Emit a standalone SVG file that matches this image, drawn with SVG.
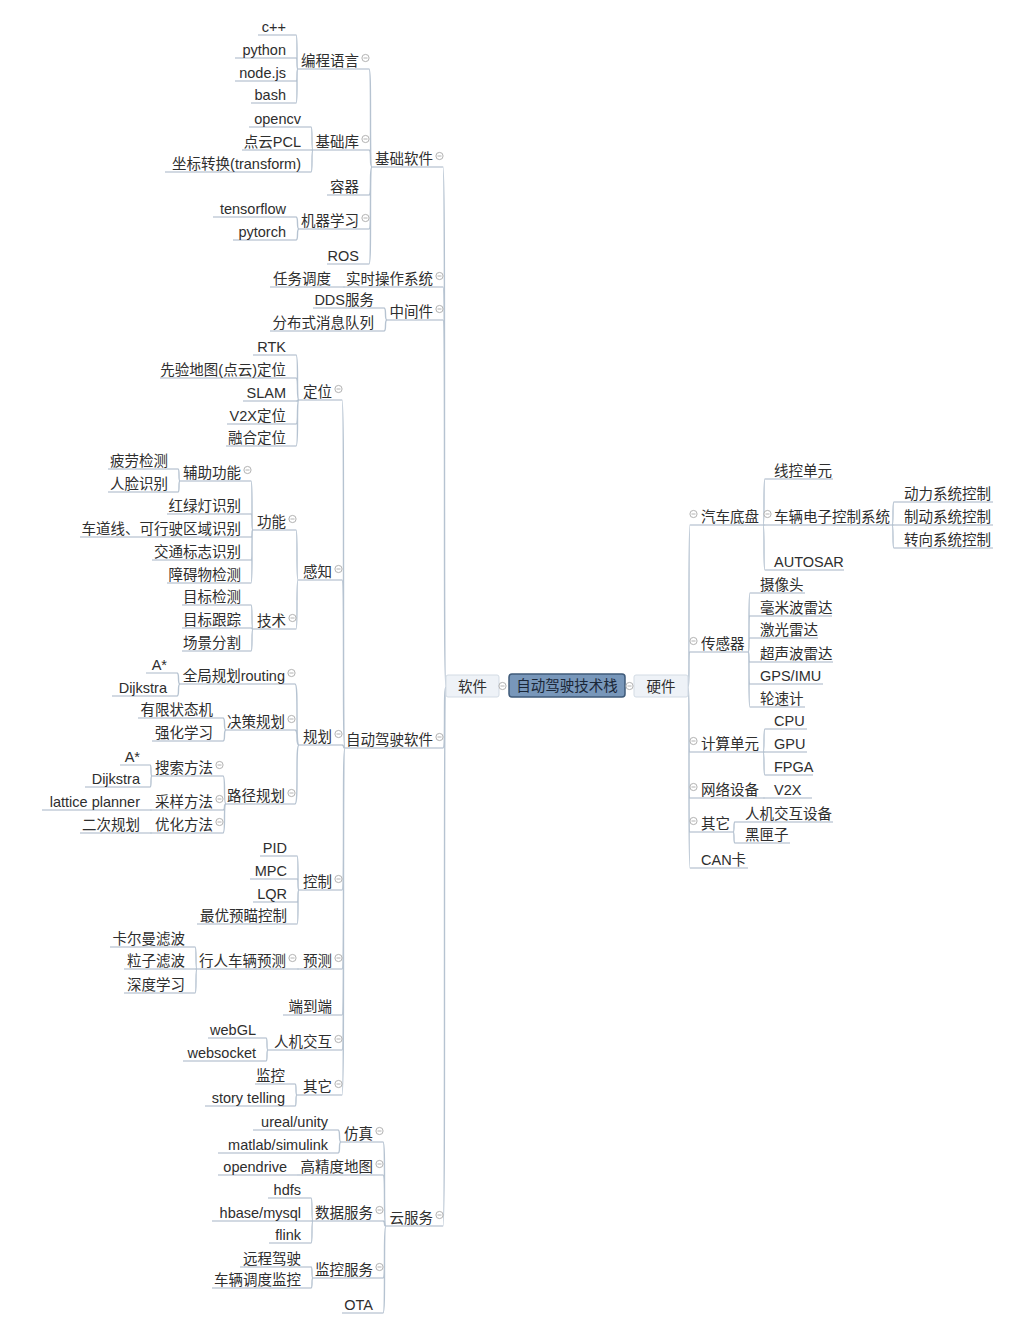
<svg xmlns="http://www.w3.org/2000/svg" xmlns:xlink="http://www.w3.org/1999/xlink" width="1032" height="1326" viewBox="0 0 1032 1326">
<style>
.t{font-family:"Liberation Sans","Noto Sans CJK SC",sans-serif;font-size:14.5px;fill:#2e2e2e}
.e{text-anchor:end}
.m{text-anchor:middle}
.u{fill:none;stroke:#c3cdd8;stroke-width:1.4}
.c{fill:none;stroke:#b6c3d1;stroke-width:1.4}
</style>
<defs>
<g id="ic"><circle r="3.6" fill="#fff" stroke="#a9a9a9" stroke-width="0.9"/><path d="M-2 0H2" stroke="#a9a9a9" stroke-width="0.9"/></g>
</defs>
<rect width="1032" height="1326" fill="#ffffff"/>
<g id="connectors">
<path class="c" d="M446 687C443 687 446 167 443 167M446 687C443 687 446 287 443 287M446 687C443 687 446 320 443 320M446 687C443 687 446 748 443 748M446 687C443 687 446 1226 443 1226"/>
<path class="c" d="M372 167C369 167 372 69 369 69M372 167C369 167 372 150 369 150M372 167C369 167 372 195 369 195M372 167C369 167 372 229 369 229M372 167C369 167 372 264 369 264"/>
<path class="c" d="M298 69C296 69 298 35 296 35M298 69C296 69 298 58 296 58M298 69C296 69 298 81 296 81M298 69C296 69 298 103 296 103"/>
<path class="c" d="M313 150C311 150 313 127 311 127M313 150H311M313 150C311 150 313 172 311 172"/>
<path class="c" d="M299 229C296 229 299 217 296 217M299 229C296 229 299 240 296 240"/>
<path class="c" d="M345 287H343"/>
<path class="c" d="M387 320C384 320 387 308 384 308M387 320C384 320 387 331 384 331"/>
<path class="c" d="M345 748C342 748 345 400 342 400M345 748C342 748 345 580 342 580M345 748C342 748 345 745 342 745M345 748C342 748 345 890 342 890M345 748C342 748 345 969 342 969M345 748C342 748 345 1015 342 1015M345 748C342 748 345 1050 342 1050M345 748C342 748 345 1095 342 1095"/>
<path class="c" d="M299 400C296 400 299 355 296 355M299 400C296 400 299 378 296 378M299 400C296 400 299 401 296 401M299 400C296 400 299 424 296 424M299 400C296 400 299 446 296 446"/>
<path class="c" d="M298 580C296 580 298 530 296 530M298 580C296 580 298 629 296 629"/>
<path class="c" d="M253 530C251 530 253 481 251 481M253 530C251 530 253 514 251 514M253 530C251 530 253 537 251 537M253 530C251 530 253 560 251 560M253 530C251 530 253 583 251 583"/>
<path class="c" d="M180 481C178 481 180 469 178 469M180 481C178 481 180 492 178 492"/>
<path class="c" d="M253 629C251 629 253 605 251 605M253 629C251 629 253 628 251 628M253 629C251 629 253 651 251 651"/>
<path class="c" d="M299 745C295 745 299 684 295 684M299 745C295 745 299 730 295 730M299 745C295 745 299 804 295 804"/>
<path class="c" d="M180 684C177 684 180 673 177 673M180 684C177 684 180 696 177 696"/>
<path class="c" d="M226 730C223 730 226 718 223 718M226 730C223 730 226 741 223 741"/>
<path class="c" d="M226 804C223 804 226 776 223 776M226 804C223 804 226 810 223 810M226 804C223 804 226 833 223 833"/>
<path class="c" d="M152 776C150 776 152 765 150 765M152 776C150 776 152 787 150 787M152 810H150M152 833H150"/>
<path class="c" d="M299 890C297 890 299 856 297 856M299 890C297 890 299 879 297 879M299 890C297 890 299 902 297 902M299 890C297 890 299 924 297 924"/>
<path class="c" d="M299 969H297"/>
<path class="c" d="M197 969C195 969 197 947 195 947M197 969H195M197 969C195 969 197 993 195 993"/>
<path class="c" d="M268 1050C266 1050 268 1038 266 1038M268 1050C266 1050 268 1061 266 1061"/>
<path class="c" d="M297 1095C295 1095 297 1084 295 1084M297 1095C295 1095 297 1106 295 1106"/>
<path class="c" d="M386 1226C383 1226 386 1142 383 1142M386 1226C383 1226 386 1175 383 1175M386 1226C383 1226 386 1221 383 1221M386 1226C383 1226 386 1278 383 1278M386 1226C383 1226 386 1313 383 1313"/>
<path class="c" d="M341 1142C338 1142 341 1130 338 1130M341 1142C338 1142 341 1153 338 1153"/>
<path class="c" d="M300 1175H297"/>
<path class="c" d="M313 1221C311 1221 313 1198 311 1198M313 1221H311M313 1221C311 1221 313 1243 311 1243"/>
<path class="c" d="M313 1278C311 1278 313 1267 311 1267M313 1278C311 1278 313 1288 311 1288"/>
<path class="c" d="M688 687C690 687 688 525 690 525M688 687C690 687 688 652 690 652M688 687C690 687 688 752 690 752M688 687C690 687 688 798 690 798M688 687C690 687 688 832 690 832M688 687C690 687 688 868 690 868"/>
<path class="c" d="M763 525C765 525 763 479 765 479M763 525H765M763 525C765 525 763 570 765 570"/>
<path class="c" d="M892 525C894 525 892 502 894 502M892 525H894M892 525C894 525 892 548 894 548"/>
<path class="c" d="M748 652C750 652 748 593 750 593M748 652C750 652 748 616 750 616M748 652C750 652 748 638 750 638M748 652C750 652 748 662 750 662M748 652C750 652 748 684 750 684M748 652C750 652 748 707 750 707"/>
<path class="c" d="M763 752C765 752 763 729 765 729M763 752H765M763 752C765 752 763 775 765 775"/>
<path class="c" d="M763 798H765"/>
<path class="c" d="M733 832C735 832 733 822 735 822M733 832C735 832 733 843 735 843"/>
</g>

<g id="root"><rect x="509" y="674" width="116" height="23" rx="3" fill="#7897ba" stroke="#3f5b7a" stroke-width="1.5"/><text class="t m" x="567" y="691" style="fill:#1b2738">自动驾驶技术栈</text></g>
<g id="n-software"><rect x="446" y="675" width="53" height="22" rx="2" fill="#eef2f7" stroke="#d3dbe4"/><text class="t m" x="472.5" y="692">软件</text><use href="#ic" x="502.5" y="686"/></g>
<g id="n-hardware"><rect x="634" y="675" width="54" height="22" rx="2" fill="#eef2f7" stroke="#d3dbe4"/><text class="t m" x="661" y="692">硬件</text><use href="#ic" x="629.5" y="686"/></g>

<g id="n-jcrj"><path class="u" d="M372 167H443"/><text class="t e" x="433" y="164">基础软件</text><use href="#ic" x="439.5" y="156"/></g>
<g id="n-sscz"><path class="u" d="M345 287H443"/><text class="t e" x="433" y="284">实时操作系统</text><use href="#ic" x="439.5" y="276"/></g>
<g id="n-rwdd"><path class="u" d="M270 287H343"/><text class="t e" x="331" y="284">任务调度</text></g>
<g id="n-zjj"><path class="u" d="M387 320H443"/><text class="t e" x="433" y="317">中间件</text><use href="#ic" x="439.5" y="309"/></g>
<g id="n-zdjsrj"><path class="u" d="M345 748H443"/><text class="t e" x="433" y="745">自动驾驶软件</text><use href="#ic" x="439.5" y="737"/></g>
<g id="n-yfw"><path class="u" d="M386 1226H443"/><text class="t e" x="433" y="1223">云服务</text><use href="#ic" x="439.5" y="1215"/></g>

<g id="n-bcyy"><path class="u" d="M298 69H369"/><text class="t e" x="359" y="66">编程语言</text><use href="#ic" x="365.5" y="58"/></g>
<g id="n-jck"><path class="u" d="M313 150H369"/><text class="t e" x="359" y="147">基础库</text><use href="#ic" x="365.5" y="139"/></g>
<g id="n-rq"><path class="u" d="M327 195H369"/><text class="t e" x="359" y="192">容器</text></g>
<g id="n-jqxx"><path class="u" d="M299 229H369"/><text class="t e" x="359" y="226">机器学习</text><use href="#ic" x="365.5" y="218"/></g>
<g id="n-ros"><path class="u" d="M327 264H369"/><text class="t e" x="359" y="261">ROS</text></g>

<g id="n-cpp"><path class="u" d="M258 35H296"/><text class="t e" x="286" y="32">c++</text></g>
<g id="n-python"><path class="u" d="M235 58H296"/><text class="t e" x="286" y="55">python</text></g>
<g id="n-nodejs"><path class="u" d="M235 81H296"/><text class="t e" x="286" y="78">node.js</text></g>
<g id="n-bash"><path class="u" d="M251 103H296"/><text class="t e" x="286" y="100">bash</text></g>
<g id="n-opencv"><path class="u" d="M249 127H311"/><text class="t e" x="301" y="124">opencv</text></g>
<g id="n-pcl"><path class="u" d="M242 150H311"/><text class="t e" x="301" y="147">点云PCL</text></g>
<g id="n-tf"><path class="u" d="M165 172H311"/><text class="t e" x="301" y="169">坐标转换(transform)</text></g>
<g id="n-tensorflow"><path class="u" d="M213 217H296"/><text class="t e" x="286" y="214">tensorflow</text></g>
<g id="n-pytorch"><path class="u" d="M233 240H296"/><text class="t e" x="286" y="237">pytorch</text></g>
<g id="n-dds"><path class="u" d="M313 308H384"/><text class="t e" x="374" y="305">DDS服务</text></g>
<g id="n-fbs"><path class="u" d="M270 331H384"/><text class="t e" x="374" y="328">分布式消息队列</text></g>

<g id="n-dw"><path class="u" d="M299 400H342"/><text class="t e" x="332" y="397">定位</text><use href="#ic" x="338.5" y="389"/></g>
<g id="n-gz"><path class="u" d="M298 580H342"/><text class="t e" x="332" y="577">感知</text><use href="#ic" x="338.5" y="569"/></g>
<g id="n-gh"><path class="u" d="M299 745H342"/><text class="t e" x="332" y="742">规划</text><use href="#ic" x="338.5" y="734"/></g>
<g id="n-kz"><path class="u" d="M299 890H342"/><text class="t e" x="332" y="887">控制</text><use href="#ic" x="338.5" y="879"/></g>
<g id="n-yc"><path class="u" d="M299 969H342"/><text class="t e" x="332" y="966">预测</text><use href="#ic" x="338.5" y="958"/></g>
<g id="n-ddd"><path class="u" d="M283 1015H342"/><text class="t e" x="332" y="1012">端到端</text></g>
<g id="n-rjjh"><path class="u" d="M268 1050H342"/><text class="t e" x="332" y="1047">人机交互</text><use href="#ic" x="338.5" y="1039"/></g>
<g id="n-qt"><path class="u" d="M297 1095H342"/><text class="t e" x="332" y="1092">其它</text><use href="#ic" x="338.5" y="1084"/></g>

<g id="n-rtk"><path class="u" d="M253 355H296"/><text class="t e" x="286" y="352">RTK</text></g>
<g id="n-xydt"><path class="u" d="M160 378H296"/><text class="t e" x="286" y="375">先验地图(点云)定位</text></g>
<g id="n-slam"><path class="u" d="M243 401H296"/><text class="t e" x="286" y="398">SLAM</text></g>
<g id="n-v2xdw"><path class="u" d="M227 424H296"/><text class="t e" x="286" y="421">V2X定位</text></g>
<g id="n-rhdw"><path class="u" d="M226 446H296"/><text class="t e" x="286" y="443">融合定位</text></g>

<g id="n-gn"><path class="u" d="M253 530H296"/><text class="t e" x="286" y="527">功能</text><use href="#ic" x="292.5" y="519"/></g>
<g id="n-js"><path class="u" d="M253 629H296"/><text class="t e" x="286" y="626">技术</text><use href="#ic" x="292.5" y="618"/></g>
<g id="n-fzgn"><path class="u" d="M180 481H251"/><text class="t e" x="241" y="478">辅助功能</text><use href="#ic" x="247.5" y="470"/></g>
<g id="n-hld"><path class="u" d="M167 514H251"/><text class="t e" x="241" y="511">红绿灯识别</text></g>
<g id="n-cdx"><path class="u" d="M80 537H251"/><text class="t e" x="241" y="534">车道线、可行驶区域识别</text></g>
<g id="n-jtbz"><path class="u" d="M152 560H251"/><text class="t e" x="241" y="557">交通标志识别</text></g>
<g id="n-zaw"><path class="u" d="M167 583H251"/><text class="t e" x="241" y="580">障碍物检测</text></g>
<g id="n-pljc"><path class="u" d="M108 469H178"/><text class="t e" x="168" y="466">疲劳检测</text></g>
<g id="n-rlsb"><path class="u" d="M108 492H178"/><text class="t e" x="168" y="489">人脸识别</text></g>
<g id="n-mbjc"><path class="u" d="M182 605H251"/><text class="t e" x="241" y="602">目标检测</text></g>
<g id="n-mbgz"><path class="u" d="M182 628H251"/><text class="t e" x="241" y="625">目标跟踪</text></g>
<g id="n-cjfg"><path class="u" d="M182 651H251"/><text class="t e" x="241" y="648">场景分割</text></g>

<g id="n-qjgh"><path class="u" d="M180 684H295"/><text class="t e" x="285" y="681">全局规划routing</text><use href="#ic" x="291.5" y="673"/></g>
<g id="n-jcgh"><path class="u" d="M226 730H295"/><text class="t e" x="285" y="727">决策规划</text><use href="#ic" x="291.5" y="719"/></g>
<g id="n-ljgh"><path class="u" d="M226 804H295"/><text class="t e" x="285" y="801">路径规划</text><use href="#ic" x="291.5" y="793"/></g>
<g id="n-astar1"><path class="u" d="M146 673H177"/><text class="t e" x="167" y="670">A*</text></g>
<g id="n-dij1"><path class="u" d="M112 696H177"/><text class="t e" x="167" y="693">Dijkstra</text></g>
<g id="n-yxztj"><path class="u" d="M138 718H223"/><text class="t e" x="213" y="715">有限状态机</text></g>
<g id="n-qhxx"><path class="u" d="M152 741H223"/><text class="t e" x="213" y="738">强化学习</text></g>
<g id="n-ssff"><path class="u" d="M152 776H223"/><text class="t e" x="213" y="773">搜索方法</text><use href="#ic" x="219.5" y="765"/></g>
<g id="n-cyff"><path class="u" d="M152 810H223"/><text class="t e" x="213" y="807">采样方法</text><use href="#ic" x="219.5" y="799"/></g>
<g id="n-yhff"><path class="u" d="M152 833H223"/><text class="t e" x="213" y="830">优化方法</text><use href="#ic" x="219.5" y="822"/></g>
<g id="n-astar2"><path class="u" d="M120 765H150"/><text class="t e" x="140" y="762">A*</text></g>
<g id="n-dij2"><path class="u" d="M85 787H150"/><text class="t e" x="140" y="784">Dijkstra</text></g>
<g id="n-lattice"><path class="u" d="M42 810H150"/><text class="t e" x="140" y="807">lattice planner</text></g>
<g id="n-ecgh"><path class="u" d="M80 833H150"/><text class="t e" x="140" y="830">二次规划</text></g>

<g id="n-pid"><path class="u" d="M260 856H297"/><text class="t e" x="287" y="853">PID</text></g>
<g id="n-mpc"><path class="u" d="M250 879H297"/><text class="t e" x="287" y="876">MPC</text></g>
<g id="n-lqr"><path class="u" d="M253 902H297"/><text class="t e" x="287" y="899">LQR</text></g>
<g id="n-zyym"><path class="u" d="M197 924H297"/><text class="t e" x="287" y="921">最优预瞄控制</text></g>
<g id="n-xrcl"><path class="u" d="M197 969H297"/><text class="t e" x="286" y="966">行人车辆预测</text><use href="#ic" x="292.5" y="958"/></g>
<g id="n-kem"><path class="u" d="M110 947H195"/><text class="t e" x="185" y="944">卡尔曼滤波</text></g>
<g id="n-lzlb"><path class="u" d="M124 969H195"/><text class="t e" x="185" y="966">粒子滤波</text></g>
<g id="n-sdxx"><path class="u" d="M124 993H195"/><text class="t e" x="185" y="990">深度学习</text></g>
<g id="n-webgl"><path class="u" d="M208 1038H266"/><text class="t e" x="256" y="1035">webGL</text></g>
<g id="n-websocket"><path class="u" d="M183 1061H266"/><text class="t e" x="256" y="1058">websocket</text></g>
<g id="n-jk"><path class="u" d="M255 1084H295"/><text class="t e" x="285" y="1081">监控</text></g>
<g id="n-story"><path class="u" d="M205 1106H295"/><text class="t e" x="285" y="1103">story telling</text></g>

<g id="n-fz"><path class="u" d="M341 1142H383"/><text class="t e" x="373" y="1139">仿真</text><use href="#ic" x="379.5" y="1131"/></g>
<g id="n-gjdt"><path class="u" d="M300 1175H383"/><text class="t e" x="373" y="1172">高精度地图</text><use href="#ic" x="379.5" y="1164"/></g>
<g id="n-sjfw"><path class="u" d="M313 1221H383"/><text class="t e" x="373" y="1218">数据服务</text><use href="#ic" x="379.5" y="1210"/></g>
<g id="n-jkfw"><path class="u" d="M313 1278H383"/><text class="t e" x="373" y="1275">监控服务</text><use href="#ic" x="379.5" y="1267"/></g>
<g id="n-ota"><path class="u" d="M342 1313H383"/><text class="t e" x="373" y="1310">OTA</text></g>
<g id="n-ureal"><path class="u" d="M253 1130H338"/><text class="t e" x="328" y="1127">ureal/unity</text></g>
<g id="n-matlab"><path class="u" d="M218 1153H338"/><text class="t e" x="328" y="1150">matlab/simulink</text></g>
<g id="n-opendrive"><path class="u" d="M218 1175H297"/><text class="t e" x="287" y="1172">opendrive</text></g>
<g id="n-hdfs"><path class="u" d="M268 1198H311"/><text class="t e" x="301" y="1195">hdfs</text></g>
<g id="n-hbase"><path class="u" d="M212 1221H311"/><text class="t e" x="301" y="1218">hbase/mysql</text></g>
<g id="n-flink"><path class="u" d="M269 1243H311"/><text class="t e" x="301" y="1240">flink</text></g>
<g id="n-ycjs"><path class="u" d="M240 1267H311"/><text class="t e" x="301" y="1264">远程驾驶</text></g>
<g id="n-clddjk"><path class="u" d="M212 1288H311"/><text class="t e" x="301" y="1285">车辆调度监控</text></g>

<g id="n-qcdp"><path class="u" d="M690 525H763"/><text class="t" x="701" y="522">汽车底盘</text><use href="#ic" x="693.5" y="514"/></g>
<g id="n-cgq"><path class="u" d="M690 652H748"/><text class="t" x="701" y="649">传感器</text><use href="#ic" x="693.5" y="641"/></g>
<g id="n-jsdy"><path class="u" d="M690 752H763"/><text class="t" x="701" y="749">计算单元</text><use href="#ic" x="693.5" y="741"/></g>
<g id="n-wlsb"><path class="u" d="M690 798H763"/><text class="t" x="701" y="795">网络设备</text><use href="#ic" x="693.5" y="787"/></g>
<g id="n-qt2"><path class="u" d="M690 832H733"/><text class="t" x="701" y="829">其它</text><use href="#ic" x="693.5" y="821"/></g>
<g id="n-can"><path class="u" d="M690 868H748"/><text class="t" x="701" y="865">CAN卡</text></g>
<g id="n-xkdy"><path class="u" d="M765 479H833"/><text class="t" x="774" y="476">线控单元</text></g>
<g id="n-cldz"><path class="u" d="M765 525H892"/><text class="t" x="774" y="522">车辆电子控制系统</text><use href="#ic" x="767.5" y="514"/></g>
<g id="n-autosar"><path class="u" d="M765 570H844"/><text class="t" x="774" y="567">AUTOSAR</text></g>
<g id="n-dlxt"><path class="u" d="M894 502H993"/><text class="t" x="904" y="499">动力系统控制</text></g>
<g id="n-zdxt"><path class="u" d="M894 525H993"/><text class="t" x="904" y="522">制动系统控制</text></g>
<g id="n-zxxt"><path class="u" d="M894 548H993"/><text class="t" x="904" y="545">转向系统控制</text></g>
<g id="n-sxt"><path class="u" d="M750 593H805"/><text class="t" x="760" y="590">摄像头</text></g>
<g id="n-hmb"><path class="u" d="M750 616H832"/><text class="t" x="760" y="613">毫米波雷达</text></g>
<g id="n-jgld"><path class="u" d="M750 638H818"/><text class="t" x="760" y="635">激光雷达</text></g>
<g id="n-csb"><path class="u" d="M750 662H833"/><text class="t" x="760" y="659">超声波雷达</text></g>
<g id="n-gps"><path class="u" d="M750 684H823"/><text class="t" x="760" y="681">GPS/IMU</text></g>
<g id="n-lsj"><path class="u" d="M750 707H805"/><text class="t" x="760" y="704">轮速计</text></g>
<g id="n-cpu"><path class="u" d="M765 729H807"/><text class="t" x="774" y="726">CPU</text></g>
<g id="n-gpu"><path class="u" d="M765 752H807"/><text class="t" x="774" y="749">GPU</text></g>
<g id="n-fpga"><path class="u" d="M765 775H813"/><text class="t" x="774" y="772">FPGA</text></g>
<g id="n-v2x"><path class="u" d="M765 798H812"/><text class="t" x="774" y="795">V2X</text></g>
<g id="n-rjjhsb"><path class="u" d="M735 822H833"/><text class="t" x="745" y="819">人机交互设备</text></g>
<g id="n-hxz"><path class="u" d="M735 843H790"/><text class="t" x="745" y="840">黑匣子</text></g>
</svg>
